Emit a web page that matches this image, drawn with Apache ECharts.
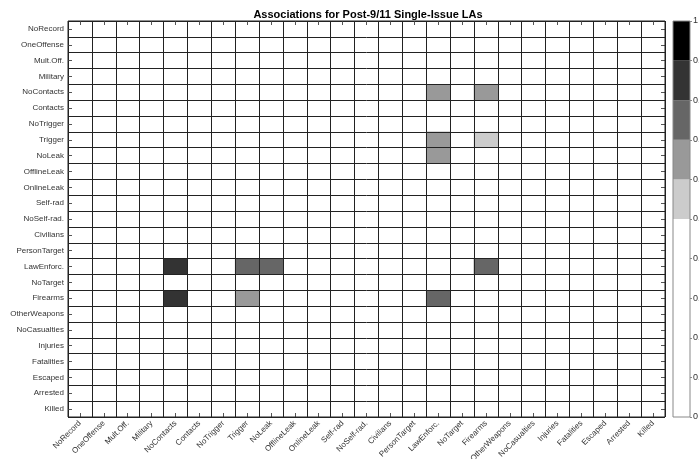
<!DOCTYPE html>
<html>
<head>
<meta charset="utf-8">
<script src="https://cdn.jsdelivr.net/npm/echarts@6/dist/echarts.min.js"></script>
<style>html,body{margin:0;padding:0;background:#fff}#c{width:699px;height:459px}</style>
</head>
<body>
<div id="c"></div>
<script>
const categories = ['NoRecord','OneOffense','Mult.Off.','Military','NoContacts','Contacts','NoTrigger','Trigger','NoLeak','OfflineLeak','OnlineLeak','Self-rad','NoSelf-rad.','Civilians','PersonTarget','LawEnforc.','NoTarget','Firearms','OtherWeapons','NoCasualties','Injuries','Fatalities','Escaped','Arrested','Killed'];
const cellRows = ['NoContacts','NoContacts','Trigger','Trigger','NoLeak','LawEnforc.','LawEnforc.','LawEnforc.','LawEnforc.','Firearms','Firearms','Firearms'];
const cellCols = ['LawEnforc.','Firearms','LawEnforc.','Firearms','LawEnforc.','NoContacts','Trigger','NoLeak','Firearms','NoContacts','Trigger','LawEnforc.'];
const cellValues = [0.65,0.65,0.65,0.55,0.65,0.85,0.75,0.75,0.75,0.85,0.65,0.75];
const bandEdges = [0,0.5,0.6,0.7,0.8,0.9,1];
const bandColors = ['#ffffff','#cccccc','#999999','#666666','#333333','#000000'];

const FONT = 'Liberation Sans, Arial, Helvetica, sans-serif';
const heatData = cellValues.map((v,i)=>[categories.indexOf(cellCols[i]), categories.indexOf(cellRows[i]), v]);
const pieces = bandColors.map((c,i)=>({gte: bandEdges[i], lt: bandEdges[i+1], color: c}));
pieces[pieces.length-1].lte = 1; delete pieces[pieces.length-1].lt;

const tickStyle = {show:true, inside:true, length:4, alignWithLabel:true, interval:0, lineStyle:{color:'#555', width:1}};
const splitStyle = {show:true, interval:0, lineStyle:{color:'#222', width:1}};

const cbSeries = bandColors.map((c,i)=>({
  type:'bar', xAxisIndex:2, yAxisIndex:2, stack:'cb', barWidth:'100%', silent:true,
  data:[bandEdges[i+1]-bandEdges[i]], itemStyle:{color:c}
}));

const chart = echarts.init(document.getElementById('c'), null, {renderer:'canvas'});
chart.setOption({
  animation:false,
  backgroundColor:'#fff',
  title:{text:'Associations for Post-9/11 Single-Issue LAs', left:363, textAlign:'center', top:4,
    textStyle:{fontFamily:FONT, fontSize:11, fontWeight:'bold', color:'#000'}},
  grid:[
    {left:68, top:21, width:597, height:396, show:true, borderColor:'#222', borderWidth:1, z:10, containLabel:false, outerBoundsMode:'none'},
    {left:673, top:21, width:17, height:396, show:true, borderColor:'#888', borderWidth:1, z:10, containLabel:false, outerBoundsMode:'none'}
  ],
  visualMap:{type:'piecewise', show:false, seriesIndex:0, pieces:pieces},
  xAxis:[
    {gridIndex:0, type:'category', data:categories, position:'bottom', z:5,
     axisLine:{show:false}, axisTick:tickStyle, splitLine:splitStyle,
     axisLabel:{interval:0, rotate:45, fontSize:8, color:'#333', fontFamily:FONT, margin:5}},
    {gridIndex:0, type:'category', data:categories, position:'top', z:5,
     axisLine:{show:false}, axisTick:tickStyle, axisLabel:{show:false}, splitLine:{show:false}},
    {gridIndex:1, type:'category', data:['cb'], show:false}
  ],
  yAxis:[
    {gridIndex:0, type:'category', data:categories, inverse:true, position:'left', z:5,
     axisLine:{show:false}, axisTick:tickStyle, splitLine:splitStyle,
     axisLabel:{interval:0, fontSize:8, color:'#333', fontFamily:FONT, margin:4}},
    {gridIndex:0, type:'category', data:categories, inverse:true, position:'right', z:5,
     axisLine:{show:false}, axisTick:tickStyle, axisLabel:{show:false}, splitLine:{show:false}},
    {gridIndex:1, type:'value', min:0, max:1, interval:0.1, position:'right',
     axisLine:{show:false}, splitLine:{show:false},
     axisTick:{show:true, inside:false, length:2, lineStyle:{color:'#888'}},
     axisLabel:{fontSize:9, color:'#333', fontFamily:FONT, margin:3, hideOverlap:false,
       formatter:(v)=>String(Math.round(v*10)/10)}}
  ],
  series:[
    {type:'heatmap', xAxisIndex:0, yAxisIndex:0, data:heatData, silent:true, itemStyle:{borderWidth:0}}
  ].concat(cbSeries)
});
</script>
</body>
</html>
